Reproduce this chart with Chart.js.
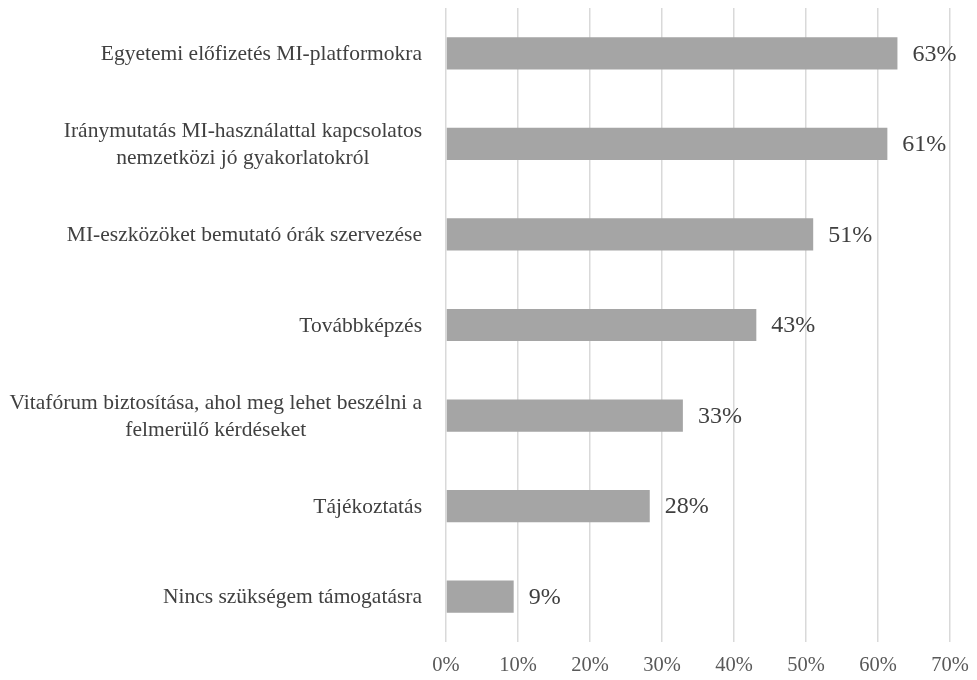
<!DOCTYPE html>
<html>
<head>
<meta charset="utf-8">
<script src="https://cdn.jsdelivr.net/npm/chart.js@4"></script>
<style>
    html, body { margin: 0; padding: 0; background: #ffffff; }
    #wrap { width: 977px; height: 680px; position: relative; }
</style>
</head>
<body>
<div id="wrap"><canvas id="supportChart"></canvas></div>
<script>
const categories = [
    "Egyetemi előfizetés MI-platformokra",
    ["Iránymutatás MI-használattal kapcsolatos", "nemzetközi jó gyakorlatokról"],
    "MI-eszközöket bemutató órák szervezése",
    "Továbbképzés",
    ["Vitafórum biztosítása, ahol meg lehet beszélni a", "felmerülő kérdéseket"],
    "Tájékoztatás",
    "Nincs szükségem támogatásra"
];
const shares = [62.7, 61.3, 51.0, 43.1, 32.9, 28.3, 9.4];
const xTicks = [0, 10, 20, 30, 40, 50, 60, 70];

const serif = "'Liberation Serif', 'DejaVu Serif', serif";

// category labels: block right-aligned, lines centred inside the block
const categoryLabels = {
    id: "categoryLabels",
    afterDraw(chart) {
        const ctx = chart.ctx;
        const yScale = chart.scales.y;
        const rightEdge = 422;
        const lineHeight = 27;
        ctx.save();
        ctx.font = "21.5px " + serif;
        ctx.fillStyle = "#404040";
        ctx.textAlign = "center";
        ctx.textBaseline = "middle";
        categories.forEach((label, i) => {
            const lines = Array.isArray(label) ? label : [label];
            const maxW = Math.max(...lines.map(l => ctx.measureText(l).width));
            const cx = rightEdge - maxW / 2;
            const cy = yScale.getPixelForValue(i) + 1;
            lines.forEach((line, j) => {
                ctx.fillText(line, cx, cy + (j - (lines.length - 1) / 2) * lineHeight);
            });
        });
        ctx.restore();
    }
};

const valueLabels = {
    id: "valueLabels",
    afterDatasetsDraw(chart) {
        const ctx = chart.ctx;
        const meta = chart.getDatasetMeta(0);
        ctx.save();
        ctx.font = "24px " + serif;
        ctx.fillStyle = "#404040";
        ctx.textAlign = "left";
        ctx.textBaseline = "middle";
        meta.data.forEach((bar, i) => {
            ctx.fillText(Math.round(shares[i]) + "%", bar.x + 15, bar.y + 1);
        });
        ctx.restore();
    }
};

window.addEventListener("DOMContentLoaded", () => {
    const ctx = document.getElementById("supportChart").getContext("2d");
    new Chart(ctx, {
        type: "bar",
        data: {
            labels: categories,
            datasets: [
                {
                    data: shares,
                    backgroundColor: "#a5a5a5",
                    borderWidth: 0,
                    barPercentage: 0.356,
                    categoryPercentage: 1
                }
            ]
        },
        options: {
            indexAxis: "y",
            responsive: true,
            maintainAspectRatio: false,
            animation: false,
            events: [],
            layout: {
                padding: { left: 0, right: 27, top: 8, bottom: 0 }
            },
            plugins: {
                legend: { display: false },
                tooltip: { enabled: false }
            },
            scales: {
                x: {
                    min: 0,
                    max: 70,
                    afterBuildTicks(scale) {
                        scale.ticks = xTicks.map(v => ({ value: v }));
                    },
                    afterFit(scale) {
                        scale.height = 38;
                        scale.paddingLeft = 0;
                        scale.paddingRight = 0;
                    },
                    grid: {
                        color: "#d9d9d9",
                        lineWidth: 1.5,
                        drawTicks: false
                    },
                    border: { display: false },
                    ticks: {
                        padding: 11,
                        color: "#595959",
                        font: { family: serif, size: 20.5 },
                        callback: v => v + "%"
                    }
                },
                y: {
                    afterFit(scale) {
                        scale.width = 446;
                    },
                    grid: { display: false },
                    border: { display: false },
                    ticks: { display: false }
                }
            }
        },
        plugins: [categoryLabels, valueLabels]
    });
});
</script>
</body>
</html>
